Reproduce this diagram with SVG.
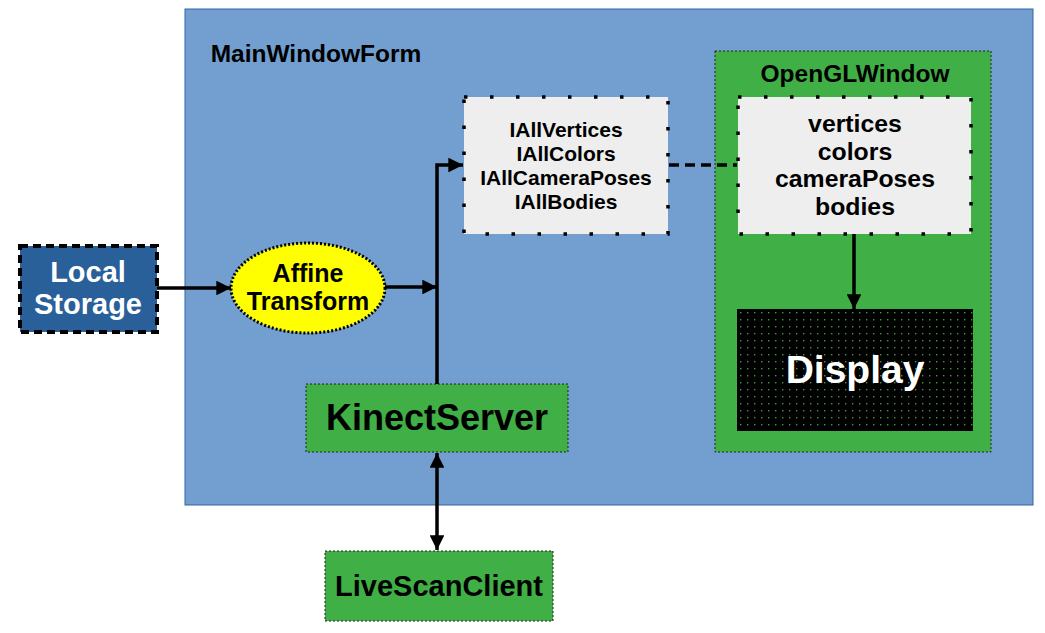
<svg xmlns="http://www.w3.org/2000/svg" width="1045" height="633" viewBox="0 0 1045 633">
<style>
text{font-family:"Liberation Sans",Arial,sans-serif;font-weight:bold;text-anchor:middle}
.green{fill:#3faf46;stroke:#222;stroke-width:1;stroke-dasharray:2 2}
.grey{fill:#eeeeee;stroke:#000;stroke-width:3.5;stroke-dasharray:3.5 22.5}
.ln{fill:none;stroke:#000;stroke-width:3.5}
</style>
<defs>
<marker id="ah" viewBox="0 0 10 10" refX="10" refY="5" markerWidth="4.2" markerHeight="4.2" orient="auto-start-reverse" markerUnits="strokeWidth">
<path d="M0,0 L10,5 L0,10 z" fill="#000"/>
</marker>
<pattern id="dots" width="7" height="7" patternUnits="userSpaceOnUse" x="737" y="309">
<rect width="7" height="7" fill="#000"/>
<rect x="3" y="3" width="1.4" height="1.4" fill="#3f9a3c"/>
</pattern>
</defs>
<rect width="1045" height="633" fill="#fff"/>
<g id="MainWindowForm">
<rect x="185" y="9" width="848" height="496" fill="#729fcf" stroke="#3465a4" stroke-width="1"/>
<text x="316" y="62" font-size="24.5">MainWindowForm</text>
</g>
<g id="OpenGLWindow">
<rect class="green" x="715" y="51" width="276" height="401"/>
<text x="855" y="82" font-size="24.5">OpenGLWindow</text>
</g>
<g id="LocalStorage">
<rect x="20" y="246" width="137" height="86" fill="#2a6099" stroke="#000" stroke-width="4" stroke-dasharray="8 5"/>
<text x="88" y="282" font-size="29" fill="#fff">Local</text>
<text x="88" y="314" font-size="29" fill="#fff">Storage</text>
</g>
<g id="AffineTransform">
<ellipse cx="308" cy="288" rx="77" ry="45" fill="#ffff00" stroke="#000" stroke-width="3" stroke-dasharray="2 2"/>
<text x="308" y="282" font-size="25">Affine</text>
<text x="308" y="310" font-size="25">Transform</text>
</g>
<g id="IAll">
<rect class="grey" x="464" y="97" width="204" height="137"/>
<text x="566" y="137" font-size="21">IAllVertices</text>
<text x="566" y="161" font-size="21">IAllColors</text>
<text x="566" y="185" font-size="21">IAllCameraPoses</text>
<text x="566" y="209" font-size="21">IAllBodies</text>
</g>
<g id="Data">
<rect class="grey" x="738" y="97" width="233" height="137"/>
<text x="855" y="132" font-size="24.8">vertices</text>
<text x="855" y="160" font-size="24.8">colors</text>
<text x="855" y="187" font-size="24.8">cameraPoses</text>
<text x="855" y="215" font-size="24.8">bodies</text>
</g>
<g id="Display">
<rect x="737" y="309" width="236" height="122" fill="url(#dots)"/>
<text x="855" y="383" font-size="39" fill="#fff">Display</text>
</g>
<g id="KinectServer">
<rect class="green" x="306" y="384" width="262" height="68"/>
<text x="437" y="430" font-size="36">KinectServer</text>
</g>
<g id="LiveScanClient">
<rect class="green" x="325" y="551" width="228" height="70"/>
<text x="439" y="596" font-size="29">LiveScanClient</text>
</g>
<g id="connectors">
<path class="ln" d="M157,288 H231" marker-end="url(#ah)"/>
<path class="ln" d="M385,287 H437" marker-end="url(#ah)"/>
<path class="ln" d="M437,384 V165 H463" marker-end="url(#ah)"/>
<path class="ln" d="M669,165 H737" stroke-dasharray="10 6"/>
<path class="ln" d="M854,234 V309" marker-end="url(#ah)"/>
<path class="ln" d="M437,453 V550" marker-start="url(#ah)" marker-end="url(#ah)"/>
</g>
</svg>
